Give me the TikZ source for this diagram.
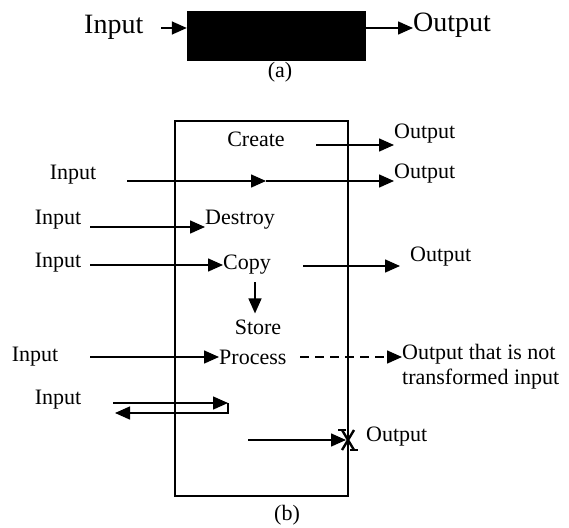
\documentclass[tikz,border=0pt]{standalone}
\usepackage{fontspec}
\setmainfont{Liberation Serif}
\usetikzlibrary{arrows.meta,positioning}
\tikzset{%
	txt/.style      = {inner sep=0pt, font=\fontsize{22}{25}\selectfont}, % Text
	bigtxt/.style   = {inner sep=0pt, font=\fontsize{28}{32}\selectfont},
	blackbox/.style = {draw, fill=black, minimum width=178pt, minimum height=49pt, inner sep=0pt},
	system/.style   = {draw, line width=1.6pt, minimum width=173pt, minimum height=375pt, inner sep=0pt},
	conn/.style     = {line width=1.5pt, -{Triangle[length=15pt,width=13pt]}}, % Arrow
	xmark/.style    = {line width=2.4pt},
}

\begin{document}
\begin{tikzpicture}[x=1pt, y=-1pt]
		\useasboundingbox (0,0) rectangle (569,527);
		% (a)
		\node[bigtxt, anchor=west] (ina) at (84,27) {Input};
		\node[blackbox] (bb) at (276,35.5) {};
		\node[bigtxt, anchor=west] (outa) at (413,25) {Output};
		\node[txt] (capa) at (280,72) {(a)};
		\coordinate (a1) at (161,28);
		\draw[conn] (a1) -- (a1 -| bb.west);
		\draw[conn] (bb.east |- a1) -- (outa.west |- a1);
		
		% (b)
		\node[system] (sys) at (261.5,308.5) {};
		\node[txt] (capb) at (287,515) {(b)};
		
		\node[txt] (create) at (256,139) {Create};
		\node[txt, anchor=west] (out1) at (394,134) {Output};
		\coordinate (s1) at (316,145);
		\draw[conn] (s1) -- (s1 -| out1.west);
		
		\node[txt] (in1) at (73,175) {Input};
		\node[txt, anchor=west] (out2) at (394,174) {Output};
		\coordinate (s2) at (127,181);
		\coordinate (m2) at (266,181);
		\draw[conn] (s2) -- (m2);
		\draw[conn] (m2) -- (m2 -| out2.west);
		
		\node[txt] (in2) at (58,220) {Input};
		\node[txt, anchor=west] (destroy) at (205,220) {Destroy};
		\coordinate (s3) at (90,227);
		\draw[conn] (s3) -- (s3 -| destroy.west);
		
		\node[txt] (in3) at (58,263) {Input};
		\node[txt, anchor=west] (copy) at (223,265) {Copy};
		\node[txt, anchor=west] (out3) at (410,257) {Output};
		\node[txt] (store) at (258,327) {Store};
		\coordinate (s4) at (90,265);
		\coordinate (s5) at (303,266);
		\coordinate (d5) at (255,282);
		\draw[conn] (s4) -- (s4 -| copy.west);
		\draw[conn, shorten >=10pt] (s5) -- (s5 -| out3.west);
		\draw[conn, shorten >=6pt] (d5) -- (d5 |- store.north);
		
		\node[txt] (in4) at (35,357) {Input};
		\node[txt, anchor=west] (process) at (219,357) {Process};
		\node[txt, anchor=west, align=left] (out4) at (402,367) {Output that is not\\transformed input};
		\coordinate (s6) at (90,357);
		\coordinate (s7) at (300,357);
		\draw[conn] (s6) -- (s6 -| process.west);
		\draw[conn, dash pattern=on 9pt off 6pt] (s7) -- (s7 -| out4.west);
		
		\node[txt] (in5) at (58,400) {Input};
		\coordinate (s8) at (113,403);
		\coordinate (k8) at (228,403);
		\coordinate (r8) at (115,413);
		\draw[conn] (s8) -- (k8);
		\draw[conn] (k8) |- (r8);
		
		\node[txt, anchor=west] (out5) at (366,437) {Output};
		\coordinate (s9) at (248,440);
		\coordinate (x9) at (348,440);
		\draw[conn, shorten >=2pt] (s9) -- (x9);
		\draw[xmark] (x9) +(-6,-10) -- +(6,10) +(6,-10) -- +(-6,10);
		\draw[xmark] (x9) +(-10,-10) -- +(-2,-10) +(2,10) -- +(10,10);
		
		\end{tikzpicture}
\end{document}
